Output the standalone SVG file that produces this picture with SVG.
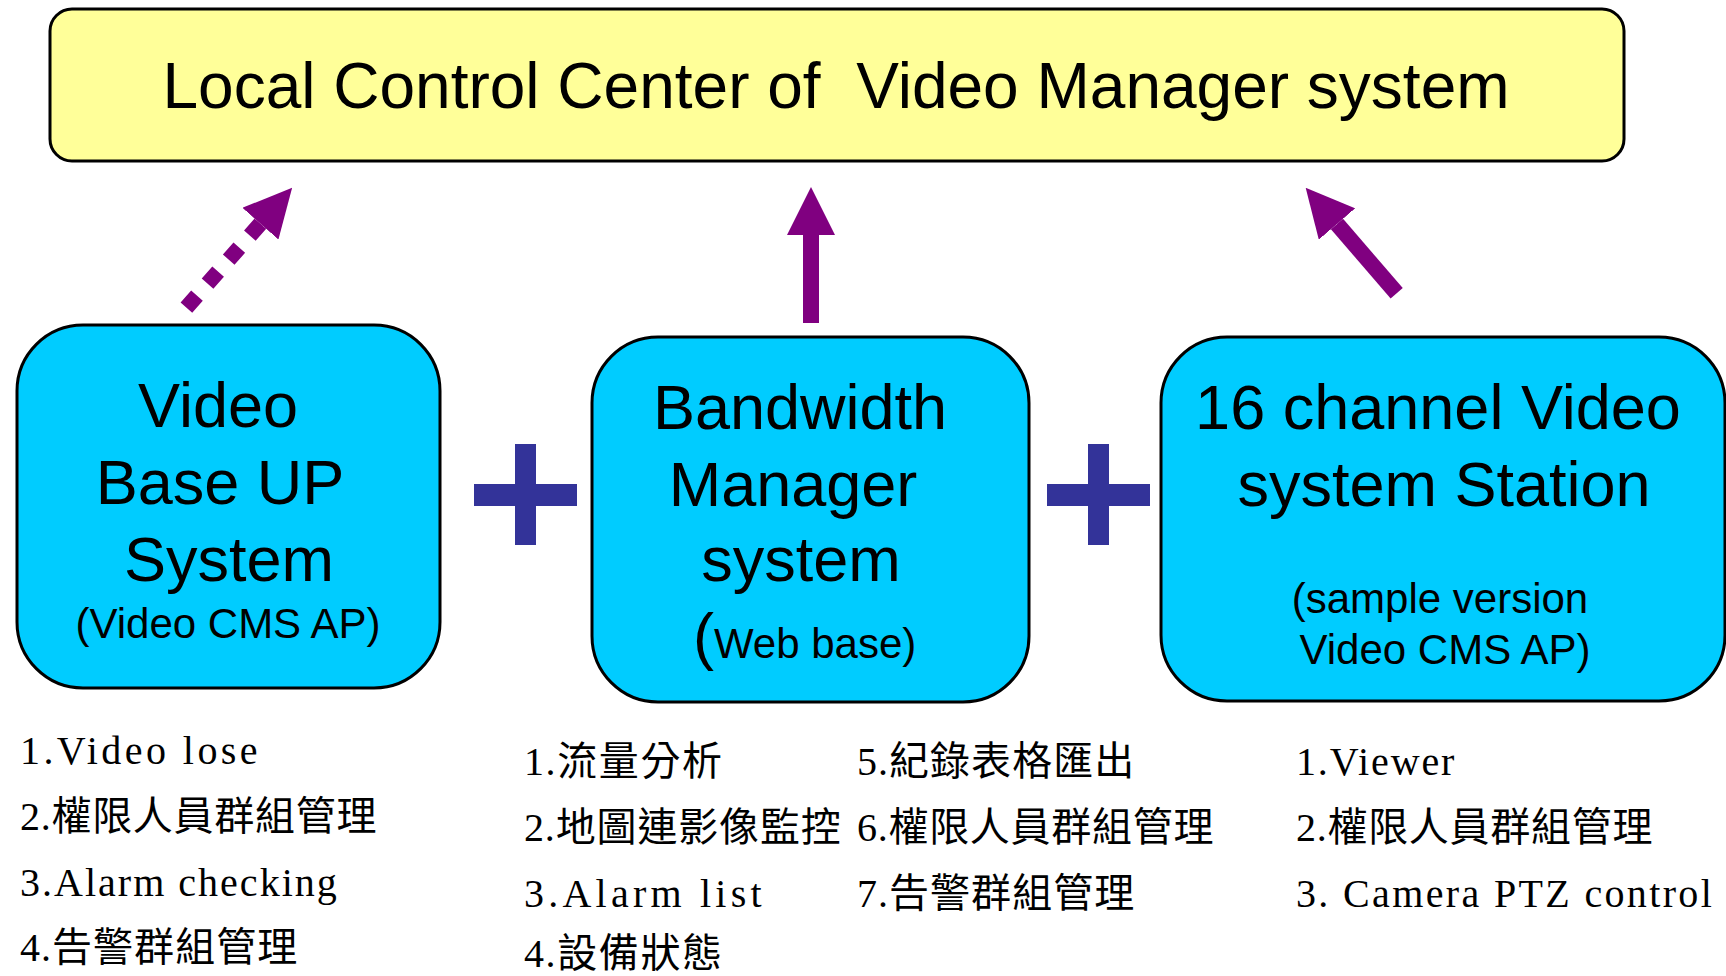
<svg xmlns="http://www.w3.org/2000/svg" width="1726" height="976" viewBox="0 0 1726 976">
<defs>
<style>
.box{stroke:#000;stroke-width:3}
.top{fill:#FFFF99}
.node{fill:#00CCFF}
.t{font-family:"Liberation Sans",Arial,sans-serif;fill:#000;text-anchor:middle}
.big{font-size:63px}
.small{font-size:42px}
.li{font-family:"Liberation Serif","Noto Sans CJK TC",serif;font-size:40px;fill:#000}
.plus{fill:#333399}
.arr{stroke:#800080;stroke-width:16;fill:none;stroke-linecap:butt}
.dash{stroke-dasharray:16 16;stroke-width:15.5}
</style>
<marker id="head" viewBox="0 0 48 48" markerWidth="48" markerHeight="48" markerUnits="userSpaceOnUse" refX="0" refY="24" orient="auto">
<path d="M0,0 L48,24 L0,48 Z" fill="#800080"/>
</marker>
</defs>
<rect width="1726" height="976" fill="#fff"/>

<g id="local-control-center">
<rect class="box top" x="50" y="9" width="1574" height="152" rx="22" ry="22"/>
<text class="t" x="836" y="108" font-size="64" xml:space="preserve">Local Control Center of  Video Manager system</text>
</g>

<g id="connectors">
<line class="arr dash" x1="186.4" y1="307.7" x2="260.4" y2="223.7" marker-end="url(#head)"/>
<line class="arr" x1="811" y1="323" x2="811" y2="235" marker-end="url(#head)"/>
<line class="arr" x1="1396.7" y1="293.3" x2="1337" y2="224" marker-end="url(#head)"/>
</g>

<g id="video-base-up-system">
<rect class="box node" x="17" y="325" width="423" height="363" rx="66" ry="66"/>
<text class="t big" x="218" y="427">Video</text>
<text class="t big" x="220" y="504">Base UP</text>
<text class="t big" x="229" y="581">System</text>
<text class="t small" x="228" y="638">(Video CMS AP)</text>
</g>

<g id="plus-1">
<rect class="plus" x="474" y="484" width="103" height="22"/>
<rect class="plus" x="515" y="444" width="21" height="101"/>
</g>

<g id="bandwidth-manager-system">
<rect class="box node" x="592" y="337" width="437" height="365" rx="66" ry="66"/>
<text class="t big" x="800" y="429">Bandwidth</text>
<text class="t big" x="793" y="506">Manager</text>
<text class="t big" x="801" y="581">system</text>
<text class="t" x="693" y="658" style="text-anchor:start"><tspan font-size="63">(</tspan><tspan font-size="42">Web base)</tspan></text>
</g>

<g id="plus-2">
<rect class="plus" x="1047" y="484" width="103" height="22"/>
<rect class="plus" x="1088" y="444" width="21" height="101"/>
</g>

<g id="channel-video-station">
<rect class="box node" x="1161" y="337" width="564" height="364" rx="66" ry="66"/>
<text class="t big" x="1438" y="429">16 channel Video</text>
<text class="t big" x="1444" y="506">system Station</text>
<text class="t small" x="1440" y="613">(sample version</text>
<text class="t small" x="1445" y="664">Video CMS AP)</text>
</g>

<g id="list-video-base">
<text class="li" x="20" y="764" textLength="237.6">1.Video lose</text>
<text class="li" x="20" y="830" textLength="356.4">2.權限人員群組管理</text>
<text class="li" x="20" y="896" textLength="316.8">3.Alarm checking</text>
<text class="li" x="20" y="961" textLength="277.2">4.告警群組管理</text>
</g>

<g id="list-bandwidth">
<text class="li" x="524" y="775" textLength="198">1.流量分析</text>
<text class="li" x="524" y="841" textLength="316.8">2.地圖連影像監控</text>
<text class="li" x="524" y="907" textLength="237.6">3.Alarm list</text>
<text class="li" x="524" y="967" textLength="198">4.設備狀態</text>
<text class="li" x="857" y="775" textLength="277.2">5.紀錄表格匯出</text>
<text class="li" x="857" y="841" textLength="356.4">6.權限人員群組管理</text>
<text class="li" x="857" y="907" textLength="277.2">7.告警群組管理</text>
</g>

<g id="list-station">
<text class="li" x="1296" y="775" textLength="158.4">1.Viewer</text>
<text class="li" x="1296" y="841" textLength="356.4">2.權限人員群組管理</text>
<text class="li" x="1296" y="907" textLength="415.8" xml:space="preserve">3. Camera PTZ control</text>
</g>
</svg>
